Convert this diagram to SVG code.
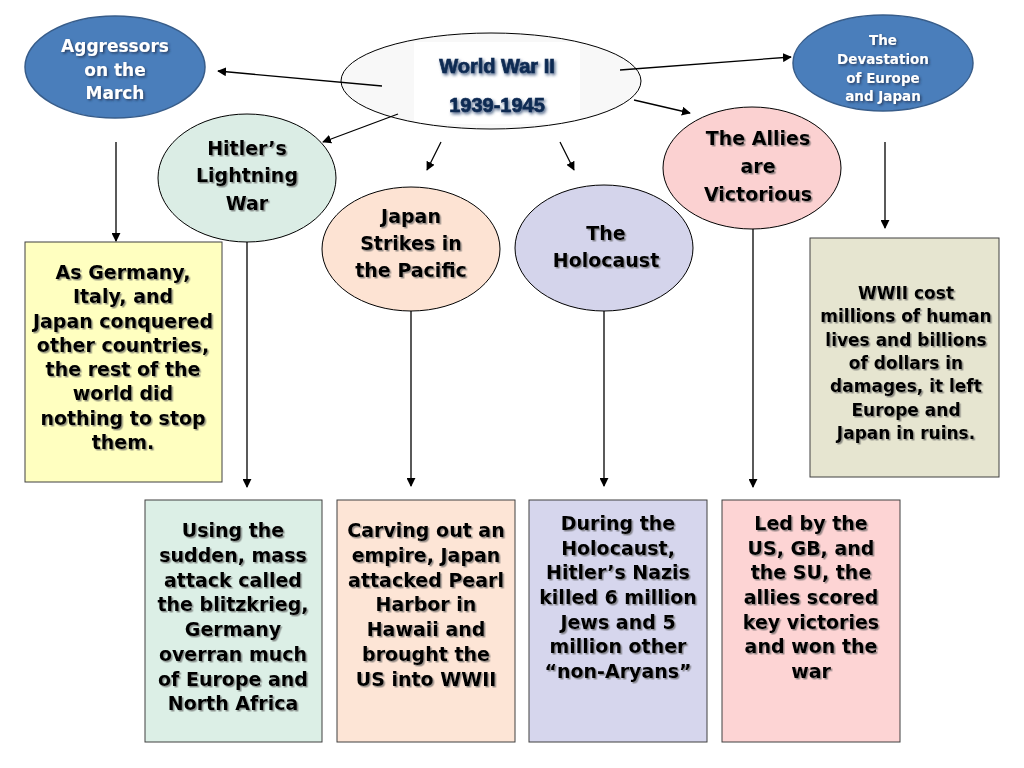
<svg xmlns="http://www.w3.org/2000/svg" width="1024" height="768" viewBox="0 0 1024 768">
<defs>
<marker id="arr" viewBox="0 0 10 10" refX="9" refY="5" markerWidth="9" markerHeight="9" markerUnits="userSpaceOnUse" orient="auto">
<path d="M0,0 L10,5 L0,10 z" fill="#000"/>
</marker>
<filter id="sh" x="-10%" y="-10%" width="130%" height="140%">
<feDropShadow dx="1.5" dy="1.5" stdDeviation="0.6" flood-color="#555" flood-opacity="0.6"/>
</filter>
<filter id="shd" x="-10%" y="-10%" width="130%" height="140%">
<feDropShadow dx="1.5" dy="1.5" stdDeviation="0.8" flood-color="#203050" flood-opacity="0.8"/>
</filter>
<filter id="sht" x="-10%" y="-20%" width="130%" height="150%">
<feDropShadow dx="1.5" dy="2" stdDeviation="1.4" flood-color="#1f3864" flood-opacity="0.75"/>
</filter>
</defs>
<style>
.t{font-family:"DejaVu Sans",sans-serif;font-weight:bold;text-anchor:middle;fill:#000;filter:url(#sh)}
.w{font-family:"DejaVu Sans",sans-serif;font-weight:bold;text-anchor:middle;fill:#fff;filter:url(#shd)}
.ti{font-family:"Liberation Sans",sans-serif;font-weight:bold;text-anchor:middle;fill:#0f2a52;stroke:#0f2a52;stroke-width:0.7;font-size:20px;filter:url(#sht)}
.blue{fill:#4a7ebb;stroke:#385d8a;stroke-width:1.5}
.el{stroke:#000;stroke-width:1}
.box{stroke:#404040;stroke-width:1}
.c{stroke:#000;stroke-width:1.3;fill:none;marker-end:url(#arr)}
</style>
<rect width="1024" height="768" fill="#fff"/>

<g id="wwii">
<ellipse cx="491" cy="81" rx="150" ry="48" fill="#f8f8f8"/>
<rect x="414" y="42" width="166" height="82" fill="#fff"/>
<ellipse cx="491" cy="81" rx="150" ry="48" fill="none" class="el"/>
<text class="ti" x="497" y="73">World War II</text>
<text class="ti" x="497" y="112">1939-1945</text>
</g>

<g id="aggressors">
<ellipse cx="115" cy="67" rx="90" ry="51" class="blue"/>
<text class="w" font-size="17" x="115" y="52">Aggressors</text>
<text class="w" font-size="17" x="115" y="76">on the</text>
<text class="w" font-size="17" x="115" y="99">March</text>
</g>

<g id="devastation">
<ellipse cx="883" cy="63" rx="90" ry="48" class="blue"/>
<text class="w" font-size="13.5" x="883" y="45">The</text>
<text class="w" font-size="13.5" x="883" y="64">Devastation</text>
<text class="w" font-size="13.5" x="883" y="83">of Europe</text>
<text class="w" font-size="13.5" x="883" y="101">and Japan</text>
</g>

<g id="hitler">
<ellipse cx="247" cy="178" rx="89" ry="64" fill="#dbede5" class="el"/>
<text class="t" font-size="19" x="247" y="155">Hitler’s</text>
<text class="t" font-size="19" x="247" y="182">Lightning</text>
<text class="t" font-size="19" x="247" y="210">War</text>
</g>

<g id="japan">
<ellipse cx="411" cy="249" rx="89" ry="62" fill="#fde3d3" class="el"/>
<text class="t" font-size="19" x="411" y="223">Japan</text>
<text class="t" font-size="19" x="411" y="250">Strikes in</text>
<text class="t" font-size="19" x="411" y="277">the Pacific</text>
</g>

<g id="holocaust">
<ellipse cx="604" cy="248" rx="89" ry="63" fill="#d4d4eb" class="el"/>
<text class="t" font-size="19" x="606" y="240">The</text>
<text class="t" font-size="19" x="606" y="267">Holocaust</text>
</g>

<g id="allies">
<ellipse cx="752" cy="168" rx="89" ry="61" fill="#fbd1d1" class="el"/>
<text class="t" font-size="19" x="758" y="145">The Allies</text>
<text class="t" font-size="19" x="758" y="173">are</text>
<text class="t" font-size="19" x="758" y="201">Victorious</text>
</g>

<g id="box-aggressors">
<rect x="25" y="242" width="197" height="240" fill="#ffffc0" class="box"/>
<g class="t" font-size="19">
<text x="123" y="279">As Germany,</text>
<text x="123" y="303">Italy, and</text>
<text x="123" y="328">Japan conquered</text>
<text x="123" y="352">other countries,</text>
<text x="123" y="376">the rest of the</text>
<text x="123" y="400">world did</text>
<text x="123" y="425">nothing to stop</text>
<text x="123" y="449">them.</text>
</g>
</g>

<g id="box-devastation">
<rect x="810" y="238" width="189" height="239" fill="#e6e5d0" class="box"/>
<g class="t" font-size="17">
<text x="906" y="299">WWII cost</text>
<text x="906" y="322">millions of human</text>
<text x="906" y="346">lives and billions</text>
<text x="906" y="369">of dollars in</text>
<text x="906" y="392">damages, it left</text>
<text x="906" y="416">Europe and</text>
<text x="906" y="439">Japan in ruins.</text>
</g>
</g>

<g id="box-hitler">
<rect x="145" y="500" width="177" height="242" fill="#dcefe6" class="box"/>
<g class="t" font-size="19">
<text x="233" y="537">Using the</text>
<text x="233" y="562">sudden, mass</text>
<text x="233" y="587">attack called</text>
<text x="233" y="611">the blitzkrieg,</text>
<text x="233" y="636">Germany</text>
<text x="233" y="661">overran much</text>
<text x="233" y="686">of Europe and</text>
<text x="233" y="710">North Africa</text>
</g>
</g>

<g id="box-japan">
<rect x="337" y="500" width="178" height="242" fill="#fde5d6" class="box"/>
<g class="t" font-size="19">
<text x="426" y="537">Carving out an</text>
<text x="426" y="562">empire, Japan</text>
<text x="426" y="587">attacked Pearl</text>
<text x="426" y="611">Harbor in</text>
<text x="426" y="636">Hawaii and</text>
<text x="426" y="661">brought the</text>
<text x="426" y="686">US into WWII</text>
</g>
</g>

<g id="box-holocaust">
<rect x="529" y="500" width="178" height="242" fill="#d6d6ed" class="box"/>
<g class="t" font-size="19">
<text x="618" y="530">During the</text>
<text x="618" y="555">Holocaust,</text>
<text x="618" y="579">Hitler’s Nazis</text>
<text x="618" y="604">killed 6 million</text>
<text x="618" y="629">Jews and 5</text>
<text x="618" y="653">million other</text>
<text x="618" y="678">“non-Aryans”</text>
</g>
</g>

<g id="box-allies">
<rect x="722" y="500" width="178" height="242" fill="#fdd4d4" class="box"/>
<g class="t" font-size="19">
<text x="811" y="530">Led by the</text>
<text x="811" y="555">US, GB, and</text>
<text x="811" y="579">the SU, the</text>
<text x="811" y="604">allies scored</text>
<text x="811" y="629">key victories</text>
<text x="811" y="653">and won the</text>
<text x="811" y="678">war</text>
</g>
</g>

<g id="connectors">
<line class="c" x1="382" y1="86" x2="218" y2="71"/>
<line class="c" x1="620" y1="70" x2="791" y2="57"/>
<line class="c" x1="398" y1="114" x2="323" y2="142"/>
<line class="c" x1="441" y1="142" x2="427" y2="170"/>
<line class="c" x1="560" y1="142" x2="574" y2="170"/>
<line class="c" x1="634" y1="100" x2="690" y2="113"/>
<line class="c" x1="116" y1="142" x2="116" y2="241"/>
<line class="c" x1="247" y1="242" x2="247" y2="487"/>
<line class="c" x1="411" y1="311" x2="411" y2="486"/>
<line class="c" x1="604" y1="311" x2="604" y2="486"/>
<line class="c" x1="753" y1="229" x2="753" y2="487"/>
<line class="c" x1="885" y1="142" x2="885" y2="228"/>
</g>
</svg>
